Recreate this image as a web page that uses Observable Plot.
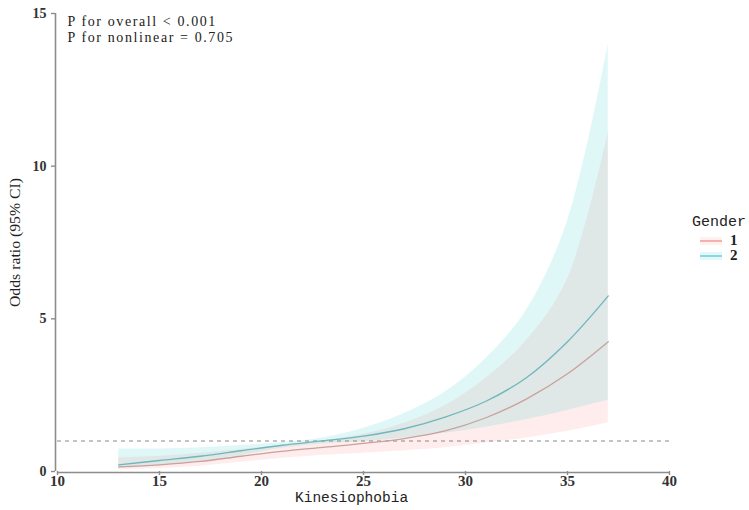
<!DOCTYPE html>
<html>
<head>
<meta charset="utf-8">
<script src="https://cdn.jsdelivr.net/npm/d3@7"></script>
<script src="https://cdn.jsdelivr.net/npm/@observablehq/plot@0.6"></script>
<style>
  html, body { margin: 0; padding: 0; background: #fff; }
  #wrap { position: relative; width: 749px; height: 510px; overflow: hidden; }
  .ttl { position: absolute; font-family: "Liberation Mono", "DejaVu Sans Mono", monospace; color: #222; white-space: nowrap; line-height: 1; }
  .ylab { position: absolute; font-family: "Liberation Serif", serif; color: #222; white-space: nowrap;
          transform-origin: center center; }
  .key { position: absolute; width: 22px; height: 8px; }
  .key .ln { position: absolute; left: 0; right: 0; top: 3px; height: 2px; }
  .klab { position: absolute; font-family: "Liberation Serif", serif; font-size: 15px; font-weight: bold; color: #222; }
</style>
</head>
<body>
<div id="wrap"></div>
<script>
// Kinesiophobia score grid
const xs  = [13, 15, 17, 19, 21, 23, 25, 27, 29, 31, 33, 35, 37];
// Gender 1: odds ratio and 95% CI
const or1 = [0.15, 0.22, 0.33, 0.50, 0.66, 0.79, 0.92, 1.08, 1.33, 1.76, 2.38, 3.20, 4.25];
const lo1 = [0.05, 0.10, 0.17, 0.30, 0.43, 0.53, 0.60, 0.68, 0.78, 0.93, 1.10, 1.32, 1.60];
const hi1 = [0.45, 0.50, 0.60, 0.72, 0.85, 1.00, 1.22, 1.58, 2.15, 3.05, 4.30, 6.30, 11.1];
// Gender 2: odds ratio and 95% CI
const or2 = [0.22, 0.36, 0.50, 0.68, 0.86, 1.00, 1.16, 1.40, 1.78, 2.30, 3.08, 4.25, 5.75];
const lo2 = [0.10, 0.20, 0.33, 0.52, 0.76, 0.90, 0.98, 1.10, 1.25, 1.45, 1.70, 2.00, 2.33];
const hi2 = [0.74, 0.74, 0.78, 0.85, 0.95, 1.10, 1.42, 1.90, 2.60, 3.70, 5.30, 8.20, 14.0];
const groups = ["1", "2"];
const xTicks = [10, 15, 20, 25, 30, 35, 40];
const yTicks = [0, 5, 10, 15];
const annot = ["P for overall < 0.001", "P for nonlinear = 0.705"];

const rows = [];
xs.forEach((x, i) => {
  rows.push({x, g: "1", or: or1[i], lo: lo1[i], hi: hi1[i]});
  rows.push({x, g: "2", or: or2[i], lo: lo2[i], hi: hi2[i]});
});
const fillC = {"1": "#F8766D", "2": "#00BFC4"};
const lineC = {"1": "#c9a19d", "2": "#6fb7bb"};

const chart = Plot.plot({
  width: 749,
  height: 510,
  marginLeft: 57,
  marginRight: 80,
  marginTop: 13,
  marginBottom: 39,
  x: {domain: [10, 40]},
  y: {domain: [0, 15]},
  style: {fontFamily: "Liberation Serif, serif", background: "#fff"},
  marks: [
    Plot.areaY(rows.filter(d => d.g === "1"), {x: "x", y1: "lo", y2: "hi", fill: fillC["1"], fillOpacity: 0.13, curve: "catmull-rom"}),
    Plot.areaY(rows.filter(d => d.g === "2"), {x: "x", y1: "lo", y2: "hi", fill: fillC["2"], fillOpacity: 0.12, curve: "catmull-rom"}),
    Plot.ruleY([1], {stroke: "#888", strokeWidth: 1.1, strokeDasharray: "4,4"}),
    Plot.lineY(rows.filter(d => d.g === "1"), {x: "x", y: "or", stroke: lineC["1"], strokeWidth: 1.3, curve: "catmull-rom"}),
    Plot.lineY(rows.filter(d => d.g === "2"), {x: "x", y: "or", stroke: lineC["2"], strokeWidth: 1.3, curve: "catmull-rom"}),
    Plot.ruleX([10], {stroke: "#8c8c8c", strokeWidth: 1.6, dx: -2}),
    Plot.ruleY([0], {stroke: "#8c8c8c", strokeWidth: 1.6, dy: 1}),
    Plot.axisX({ticks: xTicks, tickSize: 4, tickPadding: 0, stroke: "#8c8c8c", strokeWidth: 1.4, label: null,
                fontSize: 15, fontWeight: "bold", fill: "#333"}),
    Plot.axisY({ticks: yTicks, tickSize: 4, tickPadding: 5, stroke: "#8c8c8c", strokeWidth: 1.4, label: null, dx: -2,
                fontSize: 14, fontWeight: "bold", fill: "#333"}),
    Plot.text([annot[0]], {frameAnchor: "top-left", dx: 10, dy: 3, lineAnchor: "top",
                fontSize: 14, fill: "#222", textAnchor: "start", className: "annot"}),
    Plot.text([annot[1]], {frameAnchor: "top-left", dx: 10, dy: 19, lineAnchor: "top",
                fontSize: 14, fill: "#222", textAnchor: "start", className: "annot"})
  ]
});

d3.select(chart).selectAll("g.annot text").style("letter-spacing", "1.6px");

const wrap = document.getElementById("wrap");
wrap.appendChild(chart);

// axis titles
const xt = document.createElement("div");
xt.className = "ttl";
xt.style.fontSize = "14.5px";
xt.style.left = "295px";
xt.style.top = "491px";
xt.textContent = "Kinesiophobia";
wrap.appendChild(xt);

const yt = document.createElement("div");
yt.className = "ylab";
yt.style.fontSize = "15px";
yt.textContent = "Odds ratio (95% CI)";
wrap.appendChild(yt);
const w = yt.offsetWidth, h = yt.offsetHeight;
yt.style.left = (15 - w / 2) + "px";
yt.style.top = (242 - h / 2) + "px";
yt.style.transform = "rotate(-90deg) scaleX(1.05)";

// legend
const lt = document.createElement("div");
lt.className = "ttl";
lt.style.fontSize = "15px";
lt.style.left = "692px";
lt.style.top = "215px";
lt.textContent = "Gender";
wrap.appendChild(lt);

groups.forEach((g, i) => {
  const k = document.createElement("div");
  k.className = "key";
  k.style.left = "700px";
  k.style.top = (237 + i * 15) + "px";
  k.style.background = g === "1" ? "rgba(248,118,109,0.10)" : "rgba(0,191,196,0.10)";
  const ln = document.createElement("div");
  ln.className = "ln";
  ln.style.background = g === "1" ? "#f2b3ae" : "#88d8dc";
  k.appendChild(ln);
  wrap.appendChild(k);
  const l = document.createElement("div");
  l.className = "klab";
  l.style.left = "730px";
  l.style.top = (232 + i * 15) + "px";
  l.textContent = g;
  wrap.appendChild(l);
});
</script>
</body>
</html>
